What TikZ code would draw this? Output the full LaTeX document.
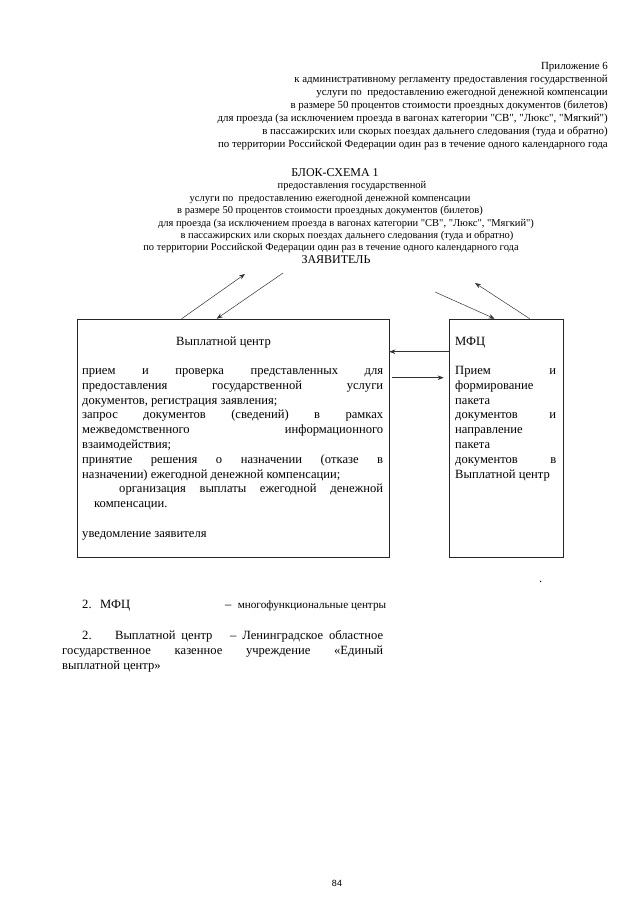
\documentclass[tikz,border=0pt]{standalone}
\usepackage{fontspec}
\setmainfont{Liberation Serif}
\newfontfamily\pagenumfont{Liberation Sans}
\usetikzlibrary{arrows.meta}
\newcommand{\jline}[2]{\makebox[#1][s]{#2}}
\newcommand{\qq}[1]{\textquotedbl#1\textquotedbl}
\tikzset{
  hdr/.style={anchor=base east, inner sep=0pt, font=\fontsize{10.9}{13}\selectfont},
  ttl/.style={anchor=base, inner sep=0pt, font=\fontsize{10.5}{13}\selectfont},
  ttlbig/.style={anchor=base, inner sep=0pt, font=\fontsize{12}{14}\selectfont},
  boxtxt/.style={anchor=base west, inner sep=0pt, font=\fontsize{12.6}{15}\selectfont},
  frame/.style={draw=black!85, line width=0.6pt, inner sep=0pt},
  arr/.style={draw=black!80, line width=0.5pt, -{Stealth[length=6pt,width=4.5pt]}},
}
\begin{document}
\begin{tikzpicture}[x=1pt,y=-1pt]
\useasboundingbox (0,0) rectangle (640,905);
\fill[white] (0,0) rectangle (640,905);
% header
\node[hdr] (h1) at (608,69.5) {Приложение 6};
\node[hdr] (h2) at (608,82.5) {к административному регламенту предоставления государственной};
\node[hdr] (h3) at (608,95.5) {услуги по\ \ предоставлению ежегодной денежной компенсации};
\node[hdr] (h4) at (608,108.5) {в размере 50 процентов стоимости проездных документов (билетов)};
\node[hdr] (h5) at (608,121.5) {для проезда (за исключением проезда в вагонах категории \qq{СВ}, \qq{Люкс}, \qq{Мягкий})};
\node[hdr] (h6) at (608,134.5) {в пассажирских или скорых поездах дальнего следования (туда и обратно)};
\node[hdr] (h7) at (608,147.5) {по территории Российской Федерации один раз в течение одного календарного года};
% title
\node[ttlbig] (t0) at (335,176) {БЛОК-СХЕМА 1};
\node[ttl] (t1) at (352,188) {предоставления государственной};
\node[ttl] (t2) at (330,201) {услуги по\ \ предоставлению ежегодной денежной компенсации};
\node[ttl] (t3) at (330,213.5) {в размере 50 процентов стоимости проездных документов (билетов)};
\node[ttl] (t4) at (346,226) {для проезда (за исключением проезда в вагонах категории \qq{СВ}, \qq{Люкс}, \qq{Мягкий})};
\node[ttl] (t5) at (347,238) {в пассажирских или скорых поездах дальнего следования (туда и обратно)};
\node[ttl] (t6) at (331,250) {по территории Российской Федерации один раз в течение одного календарного года};
\node[ttlbig] (t7) at (336,263) {ЗАЯВИТЕЛЬ};
% boxes
\node[frame, minimum width=312pt, minimum height=238pt] (vc) at (233,438) {};
\node[frame, minimum width=114pt, minimum height=238pt] (mfc) at (506,438) {};
% box titles
\node[boxtxt] (vct) at (176,345) {Выплатной центр};
\node[boxtxt] (mfct) at (455,345) {МФЦ};
% left box text
\node[boxtxt] (l1) at (82,374.5) {\jline{301pt}{прием и проверка представленных для}};
\node[boxtxt] (l2) at (82,389.3) {\jline{301pt}{предоставления государственной услуги}};
\node[boxtxt] (l3) at (82,404.1) {документов, регистрация заявления;};
\node[boxtxt] (l4) at (82,418.9) {\jline{301pt}{запрос документов (сведений) в рамках}};
\node[boxtxt] (l5) at (82,433.7) {\jline{301pt}{межведомственного информационного}};
\node[boxtxt] (l6) at (82,448.5) {взаимодействия;};
\node[boxtxt] (l7) at (82,463.3) {\jline{301pt}{принятие решения о назначении (отказе в}};
\node[boxtxt] (l8) at (82,478.1) {назначении) ежегодной денежной компенсации;};
\node[boxtxt] (l9) at (119,492.9) {\jline{264pt}{организация выплаты ежегодной денежной}};
\node[boxtxt] (l10) at (94,507.7) {компенсации.};
\node[boxtxt] (l11) at (82,537.3) {уведомление заявителя};
% right box text
\node[boxtxt] (r1) at (455,374.5) {\jline{101pt}{Прием и}};
\node[boxtxt] (r2) at (455,389.3) {формирование};
\node[boxtxt] (r3) at (455,404.1) {пакета};
\node[boxtxt] (r4) at (455,418.9) {\jline{101pt}{документов и}};
\node[boxtxt] (r5) at (455,433.7) {направление};
\node[boxtxt] (r6) at (455,448.5) {пакета};
\node[boxtxt] (r7) at (455,463.3) {\jline{101pt}{документов в}};
\node[boxtxt] (r8) at (455,478.1) {Выплатной центр};
% free arrow ends
\coordinate (a1e) at (245,274);
\coordinate (a2s) at (283,273);
\coordinate (a3s) at (435,292);
\coordinate (a4e) at (475,283);
% arrows
\draw[arr] ([xshift=105pt]vc.north west) -- (a1e);
\draw[arr] (a2s) -- ([xshift=140pt]vc.north west);
\draw[arr] (a3s) -- ([xshift=46pt]mfc.north west);
\draw[arr] ([xshift=81pt]mfc.north west) -- (a4e);
\draw[arr] ([yshift=-33pt]mfc.north west) -- ([yshift=-33pt]vc.north east);
\draw[arr] ([yshift=-59pt,xshift=3pt]vc.north east) -- ([yshift=-59pt,xshift=-5pt]mfc.north west);
% stray dot
\node[boxtxt] (dot) at (539,582) {.};
% footnotes
\node[boxtxt] (f1a) at (82,608) {2.};
\node[boxtxt] (f1b) at (100,608) {МФЦ};
\node[boxtxt] (f1c) at (225,608) {–\ \ {\fontsize{11.2}{13}\selectfont многофункциональные центры}};
\node[boxtxt] (f2) at (82,639) {\jline{301pt}{2.\ \ \ \ Выплатной центр\ \ \ – Ленинградское областное}};
\node[boxtxt] (f3) at (62,654) {\jline{321pt}{государственное казенное учреждение «Единый}};
\node[boxtxt] (f4) at (62,669) {выплатной центр»};
% page number
\node[anchor=base, inner sep=0pt, font=\pagenumfont\fontsize{9}{11}\selectfont] (pg) at (337,886) {84};
\end{tikzpicture}
\end{document}
